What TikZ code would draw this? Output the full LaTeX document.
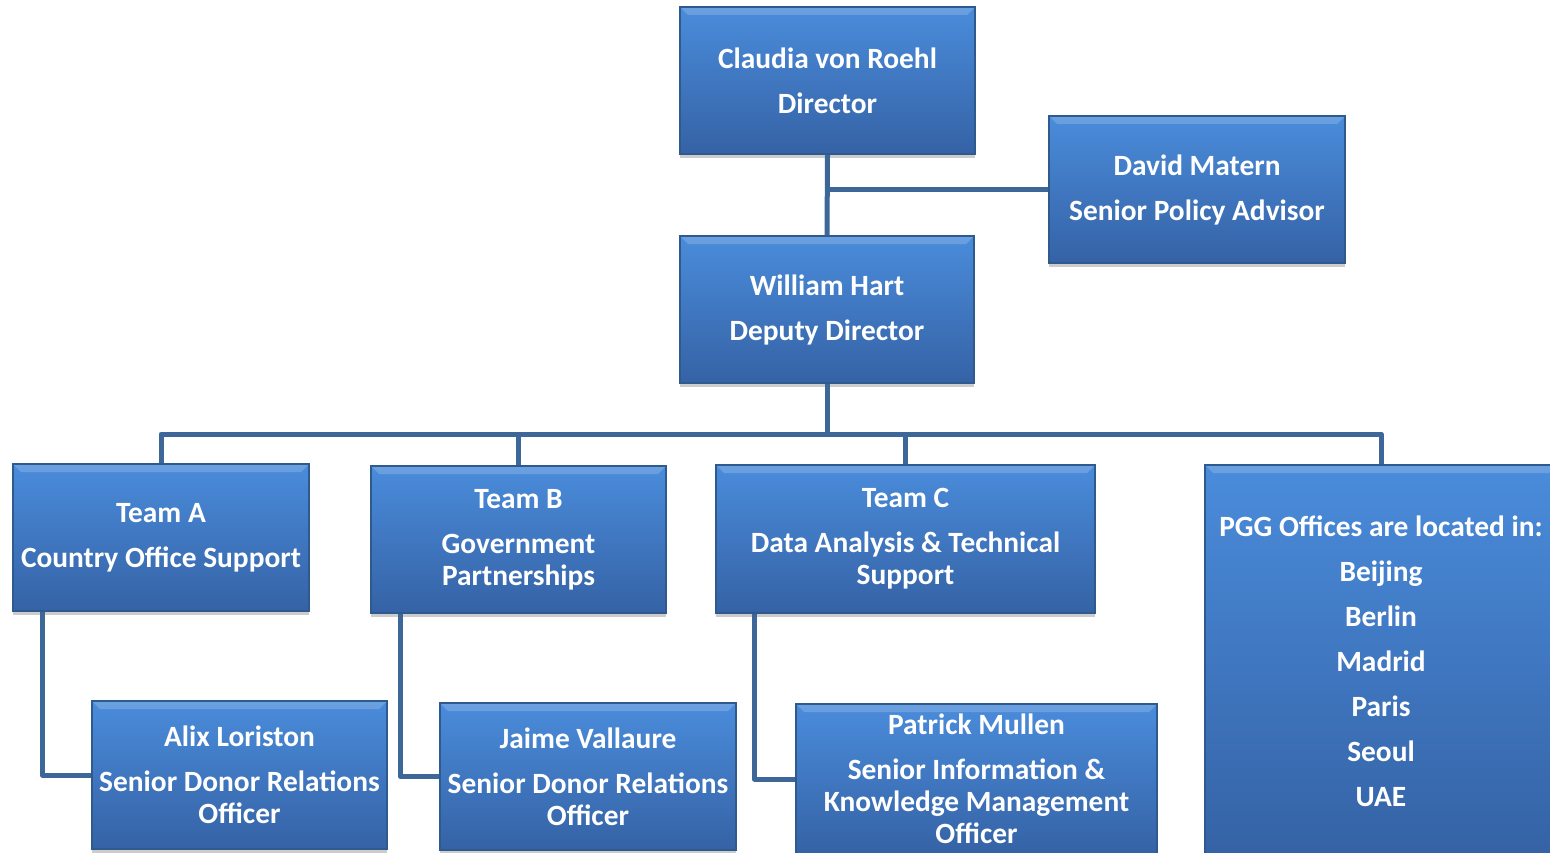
\documentclass[tikz,border=0pt]{standalone}
\usepackage{fontspec}
\setmainfont{Carlito}
\usetikzlibrary{shadows,calc}
\definecolor{boxtop}{HTML}{4A8CDB}
\definecolor{boxbot}{HTML}{3562A5}
\definecolor{boxborder}{HTML}{2F5A8E}
\definecolor{linkcol}{HTML}{3D6699}
\tikzset{
  box/.style={draw=boxborder, line width=1.5pt, top color=boxtop, bottom color=boxbot,
    text=white, align=center, inner sep=0pt,
    font=\fontsize{29.4}{32}\selectfont\bfseries,
    drop shadow={shadow xshift=0pt, shadow yshift=-4pt, opacity=0.2, fill=black},
    path picture={\fill[white,opacity=0.18] (path picture bounding box.north west) -- (path picture bounding box.north east) -- ($(path picture bounding box.north east)+(-8,8)$) -- ($(path picture bounding box.north west)+(8,8)$) -- cycle;}},
  link/.style={draw=linkcol, line width=5pt, line join=round}
}
\begin{document}
\begin{tikzpicture}[x=1pt,y=-1pt]
\useasboundingbox (0,0) rectangle (1550,853);
\clip (0,0) rectangle (1550,853);
% nodes
\node[box, minimum width=295, minimum height=147] (claudia) at (827.5,80.5) {Claudia von Roehl\\[13pt]Director};
\node[box, minimum width=296, minimum height=147] (david) at (1197,189.5) {David Matern\\[13pt]Senior Policy Advisor};
\node[box, minimum width=294, minimum height=147] (william) at (827,309.5) {William Hart\\[13pt]Deputy Director};
\node[box, minimum width=296, minimum height=147] (teamA) at (161,537.5) {Team A\\[13pt]Country Office Support};
\node[box, minimum width=295, minimum height=147] (teamB) at (518.5,539.5) {Team B\\[13pt]Government\\Partnerships};
\node[box, minimum width=379, minimum height=148] (teamC) at (905.5,539) {Team C\\[13pt]Data Analysis \& Technical\\Support};
\node[box, minimum width=352, minimum height=392] (pgg) at (1381,661) {PGG Offices are located in:\\[13pt]Beijing\\[13pt]Berlin\\[13pt]Madrid\\[13pt]Paris\\[13pt]Seoul\\[13pt]UAE};
\node[box, minimum width=295, minimum height=148] (alix) at (239.5,775) {Alix Loriston\\[13pt]Senior Donor Relations\\Officer};
\node[box, minimum width=296, minimum height=147] (jaime) at (588,776.5) {Jaime Vallaure\\[13pt]Senior Donor Relations\\Officer};
\node[box, minimum width=361, minimum height=150] (patrick) at (976.5,779) {Patrick Mullen\\[13pt]Senior Information \&\\Knowledge Management\\Officer};
% connectors
\coordinate (bus) at (827,434);
\draw[link] (claudia.south) -- (william.north);
\draw[link] (david.west) -- (claudia.south |- david.west);
\draw[link] (william.south) -- (bus);
\draw[link] (teamA.north) -- (teamA.north |- bus) -- (pgg.north |- bus) -- (pgg.north);
\draw[link] (teamB.north) -- (teamB.north |- bus);
\draw[link] (teamC.north) -- (teamC.north |- bus);
\coordinate (aA) at ($(teamA.south west)+(30,0)$);
\coordinate (aB) at ($(teamB.south west)+(30,0)$);
\coordinate (aC) at ($(teamC.south west)+(39,0)$);
\draw[link] (aA) -- (aA |- alix.west) -- (alix.west);
\draw[link] (aB) -- (aB |- jaime.west) -- (jaime.west);
\draw[link] (aC) -- (aC |- patrick.west) -- (patrick.west);
\end{tikzpicture}
\end{document}
